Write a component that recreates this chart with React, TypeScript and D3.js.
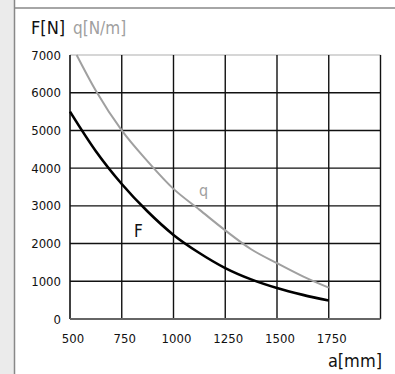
import React from "react";
import * as d3 from "d3";

const aValues = [500, 625, 750, 875, 1000, 1125, 1250, 1375, 1500, 1625, 1750];
const fValues = [5500, 4450, 3580, 2850, 2230, 1750, 1350, 1050, 820, 640, 490];
const qA = [532, 625, 750, 875, 1000, 1125, 1250, 1375, 1500, 1625, 1750];
const qValues = [7000, 6050, 5000, 4180, 3450, 2900, 2350, 1850, 1480, 1130, 830];
const xTicks = [500, 750, 1000, 1250, 1500, 1750];
const yTicks = [0, 1000, 2000, 3000, 4000, 5000, 6000, 7000];

const W = 395, H = 374;
const FONT = "'DejaVu Sans Condensed', 'DejaVu Sans', sans-serif";

export default function App() {
  const x = d3.scaleLinear().domain([500, 2000]).range([70, 380.5]);
  const y = d3.scaleLinear().domain([0, 7000]).range([319, 55]);
  const line = d3.line<[number, number]>().x(d => x(d[0])).y(d => y(d[1])).curve(d3.curveMonotoneX);
  const fPts = aValues.map((a, i) => [a, fValues[i]] as [number, number]);
  const qPts = qA.map((a, i) => [a, qValues[i]] as [number, number]);
  const gridX = [750, 1000, 1250, 1500, 1750, 2000];
  return (
    <svg width={W} height={H} style={{ position: "absolute", left: 0, top: 0 }} fontFamily={FONT}>
      <rect x={0} y={0} width={W} height={H} fill="#fff" />
      <rect x={0} y={0} width={14} height={H} fill="#ebebeb" />
      <line x1={14.5} x2={14.5} y1={0} y2={H} stroke="#888" strokeWidth={1.5} />
      <line x1={14} x2={W} y1={8} y2={8} stroke="#888" strokeWidth={1.5} />
      {/* grid */}
      {yTicks.filter(t => t > 0 && t < 7000).map(t => (
        <line key={"gy" + t} x1={x(500)} x2={x(2000)} y1={y(t)} y2={y(t)} stroke="#111" strokeWidth={1.4} />
      ))}
      <line x1={x(500)} x2={x(2000)} y1={y(7000)} y2={y(7000)} stroke="#c8c8c8" strokeWidth={1.4} />
      {gridX.map(t => (
        <line key={"gx" + t} x1={x(t)} x2={x(t)} y1={y(7000)} y2={y(0)} stroke="#111" strokeWidth={1.4} />
      ))}
      <line x1={x(500)} x2={x(500)} y1={y(7000)} y2={y(0)} stroke="#111" strokeWidth={1.6} />
      <line x1={x(500)} x2={x(2000)} y1={y(0)} y2={y(0)} stroke="#666" strokeWidth={2} />
      {/* curves */}
      <path d={line(qPts) || ""} fill="none" stroke="#a0a0a0" strokeWidth={2} />
      <path d={line(fPts) || ""} fill="none" stroke="#000" strokeWidth={2.6} />
      {/* tick labels */}
      {yTicks.map(t => (
        <text key={"yt" + t} x={61} y={y(t) + 4.5} textAnchor="end" fontSize={13} fill="#111">{t}</text>
      ))}
      {xTicks.map(t => (
        <text key={"xt" + t} x={x(t) + 3} y={343} textAnchor="middle" fontSize={13} fill="#111">{t}</text>
      ))}
      <text x={31} y={34} fontSize={18} fill="#111">F[N]</text>
      <text x={73} y={34} fontSize={17} fill="#a0a0a0">q[N/m]</text>
      <text x={382} y={367} textAnchor="end" fontSize={18} fill="#111">a[mm]</text>
      <text x={134} y={237} fontSize={17} fill="#111">F</text>
      <text x={199} y={196} fontSize={16} fill="#a0a0a0">q</text>
    </svg>
  );
}
